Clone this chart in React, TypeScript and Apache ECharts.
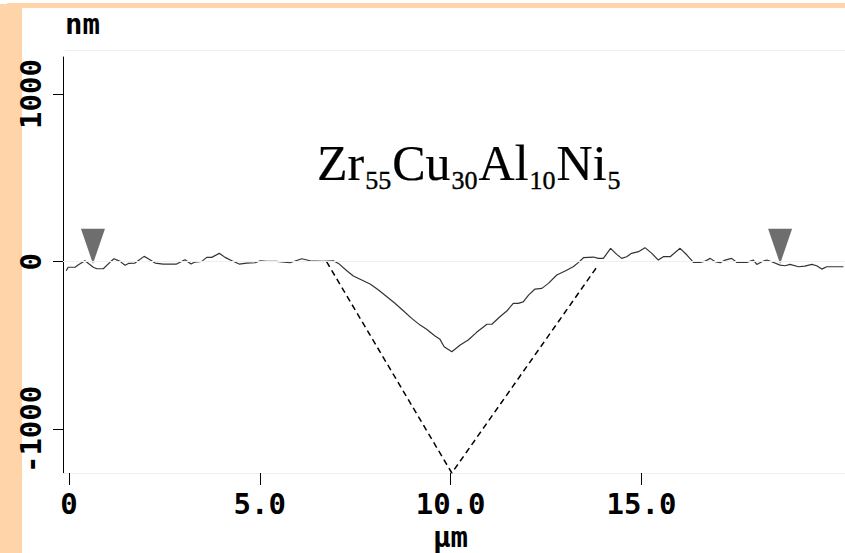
import React, { useEffect, useRef } from "react";
import * as echarts from "echarts";

// Surface profile (µm, nm)
const profileX = [
  -0.07, -0.02, 0.16, 0.25, 0.42, 0.53, 0.64, 0.73, 0.9, 1.08, 1.18, 1.34, 1.47, 1.56, 1.73, 1.97, 2.08, 2.26, 2.47, 2.82,
  3.04, 3.2, 3.3, 3.48, 3.61, 3.74, 3.94, 4.09, 4.27, 4.46, 4.66, 4.88, 5.01, 5.18, 5.44, 5.79, 6.1, 6.32, 6.66,
  6.93, 7.06, 7.28, 7.45, 7.67, 7.89, 8.11, 8.33, 8.54, 8.76, 8.98, 9.2, 9.37, 9.59, 9.72, 9.83, 10.03,
  10.25, 10.46, 10.68, 10.95, 11.08, 11.29, 11.47, 11.64, 11.77, 11.9, 12.04, 12.21, 12.39, 12.56, 12.78, 13.0, 13.21,
  13.35, 13.48, 13.74, 13.87, 14.0, 14.19, 14.35, 14.48, 14.61, 14.74, 14.92, 15.09, 15.27, 15.44, 15.57, 15.75, 16.01,
  16.19, 16.36, 16.53, 16.67, 16.8, 16.93, 17.06, 17.19, 17.36, 17.5, 17.76, 17.93, 18.02, 18.15, 18.28, 18.41, 18.63,
  18.76, 18.89, 19.11, 19.28, 19.46, 19.59, 19.72, 19.85, 20.07, 20.29,
];
const profileY = [
  -54, -33, -33, -18, 6, -14, -33, -42, -42, -2, 18, 2, -21, -10, -8, 32, 18, -8, -14, -14,
  12, -14, -2, 2, 26, 26, 50, 26, 6, -14, -8, -6, 6, 2, 2, -6, 18, 6, 2,
  6, -10, -54, -85, -109, -133, -169, -209, -248, -292, -338, -378, -403, -443, -463, -507, -537,
  -497, -467, -421, -373, -373, -328, -294, -248, -248, -239, -199, -163, -159, -129, -79, -55, -30,
  -4, 24, 28, 20, 20, 80, 44, 20, 30, 50, 60, 84, 50, 10, 30, 30, 80,
  40, -4, -4, 4, 20, 0, -6, 10, 20, -4, -4, 10, -16, 0, 10, 0, -20,
  -24, -16, -30, -26, -16, -24, -44, -30, -30, -30,
];

// Indenter outline (dashed)
const dashX = [6.75, 10.03, 13.81];
const dashY = [0, -1260, -38];

// Cursor markers
const markerX = [0.63, 18.63];
const markerY = [-12, -12];

const xTickValues = [0, 5, 10, 15];
const xTickLabels = ["0", "5.0", "10.0", "15.0"];
const yTickValues = [-1000, 0, 1000];
const yTickLabels = ["-1000", "0", "1000"];

// Alloy formula parts: [text, isSubscript]
const formulaParts: [string, boolean][] = [
  ["Zr", false], ["55", true], ["Cu", false], ["30", true],
  ["Al", false], ["10", true], ["Ni", false], ["5", true],
];

const MONO = "'DejaVu Sans Mono', monospace";
const SERIF = "'Liberation Serif', 'Times New Roman', serif";

export default function App() {
  const ref = useRef<HTMLDivElement>(null);

  useEffect(() => {
    if (!ref.current) return;
    const chart = echarts.init(ref.current, undefined, { renderer: "svg" });
    const orange = "#FFD4A8";

    // lay out the formula texts
    const mainSize = 50;
    const subSize = 26;
    const formulaTexts: any[] = [];
    let cx = 317;
    for (const [t, sub] of formulaParts) {
      const font = `${sub ? subSize : mainSize}px ${SERIF}`;
      const w = (echarts as any).format.getTextRect(t, font).width;
      formulaTexts.push({
        type: "text",
        x: cx,
        y: sub ? 180 : 163,
        style: {
          text: t,
          font,
          fill: "#000000",
          stroke: "#000000",
          lineWidth: sub ? 0.4 : 0.2,
          align: "left",
          verticalAlign: "middle",
        },
      });
      cx += w + 1;
    }

    chart.setOption({
      animation: false,
      backgroundColor: "#ffffff",
      grid: { left: 63, top: 57, right: 0, bottom: 80, containLabel: false },
      xAxis: {
        type: "value",
        min: -0.155,
        max: 20.33,
        axisLine: { show: true, onZero: false, lineStyle: { color: "#efefef", width: 1 } },
        axisTick: {
          show: true,
          customValues: xTickValues,
          length: 12,
          lineStyle: { color: "#000", width: 1 },
        },
        axisLabel: {
          customValues: xTickValues,
          formatter: (v: number) => xTickLabels[xTickValues.indexOf(v)] ?? "",
          fontFamily: MONO,
          fontWeight: "bold",
          fontSize: 29,
          color: "#000",
          margin: 16,
        },
        splitLine: { show: false },
      },
      yAxis: {
        type: "value",
        min: -1260,
        max: 1221,
        axisLine: { show: true, onZero: false, lineStyle: { color: "#000", width: 1 } },
        axisTick: {
          show: true,
          customValues: yTickValues,
          length: 10,
          lineStyle: { color: "#000", width: 1 },
        },
        axisLabel: {
          customValues: yTickValues,
          formatter: (v: number) => yTickLabels[yTickValues.indexOf(v)] ?? "",
          rotate: 90,
          fontFamily: MONO,
          fontWeight: "bold",
          fontSize: 29,
          color: "#000",
          margin: 18,
        },
        splitLine: { show: false },
      },
      graphic: [
        { type: "rect", left: 0, top: 4, shape: { width: 22, height: 549 }, style: { fill: orange }, silent: true },
        { type: "rect", left: 7, top: 3, shape: { width: 838, height: 5 }, style: { fill: orange }, silent: true },
        { type: "line", shape: { x1: 65, y1: 50.5, x2: 845, y2: 50.5 }, style: { stroke: "#efefef", lineWidth: 1 }, silent: true },
        {
          type: "text",
          x: 65,
          y: 24,
          style: { text: "nm", font: `bold 29px ${MONO}`, fill: "#000", verticalAlign: "middle", align: "left" },
        },
        {
          type: "text",
          x: 433,
          y: 537,
          style: { text: "μm", font: `bold 29px ${MONO}`, fill: "#000", verticalAlign: "middle", align: "left" },
        },
        ...formulaTexts,
      ],
      series: [
        {
          type: "line",
          data: profileX.map((x, i) => [x, profileY[i]]),
          showSymbol: false,
          lineStyle: { color: "#333", width: 1.2 },
          itemStyle: { color: "#333" },
          markLine: {
            silent: true,
            symbol: "none",
            label: { show: false },
            lineStyle: { color: "#efefef", width: 1, type: "solid" },
            data: [{ yAxis: 0 }],
          },
          z: 3,
        },
        {
          type: "line",
          data: dashX.map((x, i) => [x, dashY[i]]),
          showSymbol: false,
          lineStyle: { color: "#000", width: 1.5, type: [6, 4] },
          itemStyle: { color: "#000" },
          z: 2,
        },
        {
          type: "scatter",
          data: markerX.map((x, i) => [x, markerY[i]]),
          symbol: "triangle",
          symbolRotate: 180,
          symbolSize: [24, 35],
          symbolOffset: [0, -17.5],
          itemStyle: { color: "#4a4a4a" },
          z: 4,
        },
      ],
    });
    return () => chart.dispose();
  }, []);

  return (
    <div
      ref={ref}
      style={{ position: "fixed", left: 0, top: 0, width: 845, height: 553 }}
    />
  );
}
